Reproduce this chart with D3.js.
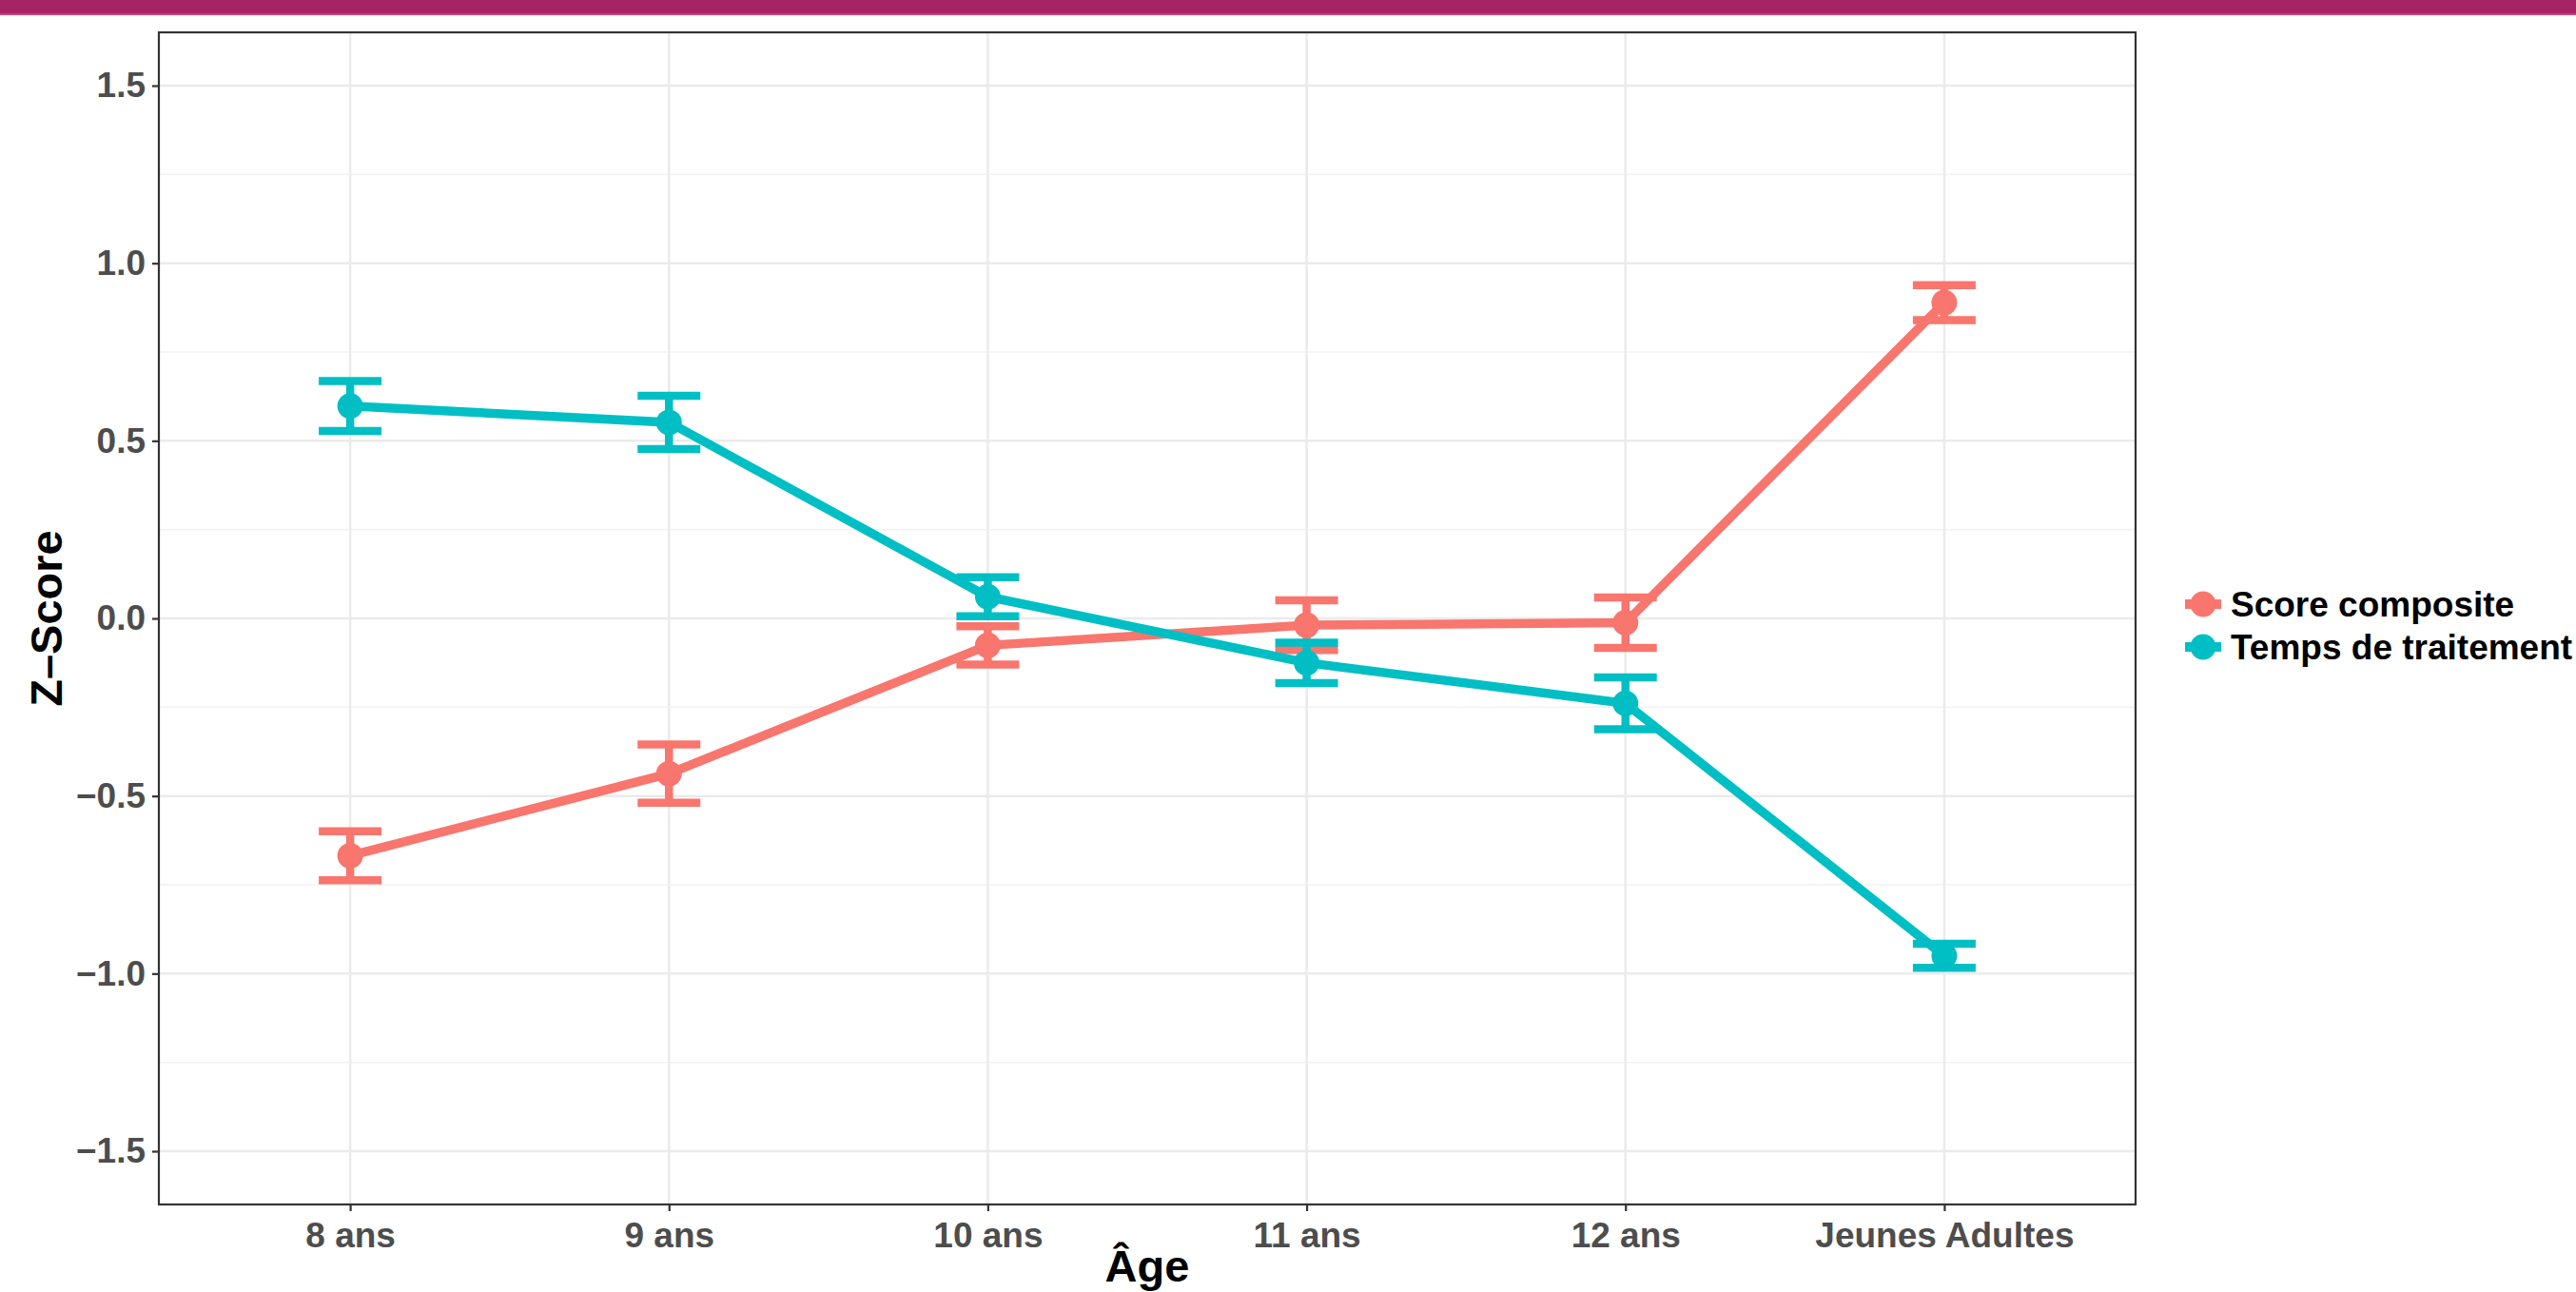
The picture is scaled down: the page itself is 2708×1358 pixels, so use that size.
<!DOCTYPE html>
<html>
<head>
<meta charset="utf-8">
<script src="https://cdnjs.cloudflare.com/ajax/libs/d3/7.8.5/d3.min.js"></script>
<style>
    body { margin: 0; background: #fff; }
    text { font-family: "Liberation Sans", Arial, Helvetica, sans-serif; font-weight: bold; }
</style>
</head>
<body>
<div id="chart"></div>
<script>
const categories = ["8 ans", "9 ans", "10 ans", "11 ans", "12 ans", "Jeunes Adultes"];
const seriesNames = ["Score composite", "Temps de traitement"];
const seriesColors = ["#F8766D", "#00BFC4"];

const scoreMean = [-0.668, -0.437, -0.076, -0.019, -0.012, 0.889];
const scoreErr = [0.069, 0.082, 0.054, 0.070, 0.071, 0.049];
const tempsMean = [0.598, 0.552, 0.061, -0.125, -0.239, -0.950];
const tempsErr = [0.070, 0.075, 0.055, 0.057, 0.073, 0.034];

const yTicks = [-1.5, -1.0, -0.5, 0.0, 0.5, 1.0, 1.5];
const yMinorTicks = [-1.25, -0.75, -0.25, 0.25, 0.75, 1.25];

const width = 2708, height = 1358;
const panel = { left: 167, right: 2245, top: 34, bottom: 1266 };

const svg = d3.select("#chart")
    .append("svg")
    .attr("width", width)
    .attr("height", height);

// top banner
svg.append("rect")
    .attr("x", 0).attr("y", 0)
    .attr("width", width).attr("height", 15)
    .attr("fill", "#A62366");
svg.append("rect")
    .attr("x", 0).attr("y", 14)
    .attr("width", width).attr("height", 2)
    .attr("fill", "#C9417F");

const x = d3.scalePoint()
    .domain(categories)
    .range([panel.left, panel.right])
    .padding(0.6);

const y = d3.scaleLinear()
    .domain([-1.65, 1.65])
    .range([panel.bottom, panel.top]);

const series = [
    { name: seriesNames[0], color: seriesColors[0], values: categories.map((c, i) => ({ cat: c, mean: scoreMean[i], err: scoreErr[i] })) },
    { name: seriesNames[1], color: seriesColors[1], values: categories.map((c, i) => ({ cat: c, mean: tempsMean[i], err: tempsErr[i] })) }
];

// grid
const grid = svg.append("g");
grid.selectAll(".minor")
    .data(yMinorTicks)
    .enter().append("line")
    .attr("x1", panel.left).attr("x2", panel.right)
    .attr("y1", d => y(d)).attr("y2", d => y(d))
    .attr("stroke", "#F2F2F2")
    .attr("stroke-width", 1.5);
grid.selectAll(".major")
    .data(yTicks)
    .enter().append("line")
    .attr("x1", panel.left).attr("x2", panel.right)
    .attr("y1", d => y(d)).attr("y2", d => y(d))
    .attr("stroke", "#EBEBEB")
    .attr("stroke-width", 2.5);
grid.selectAll(".vmajor")
    .data(categories)
    .enter().append("line")
    .attr("x1", d => x(d)).attr("x2", d => x(d))
    .attr("y1", panel.top).attr("y2", panel.bottom)
    .attr("stroke", "#EBEBEB")
    .attr("stroke-width", 2.5);

// data layers
const capHalf = 33;
const strokeW = 8.5;

const bars = svg.append("g");
const lines = svg.append("g");
const points = svg.append("g");

const line = d3.line()
    .x(d => x(d.cat))
    .y(d => y(d.mean));

series.forEach(s => {
    const g = bars.append("g")
        .attr("stroke", s.color)
        .attr("stroke-width", strokeW);
    g.selectAll(".stem")
        .data(s.values)
        .enter().append("line")
        .attr("x1", d => x(d.cat)).attr("x2", d => x(d.cat))
        .attr("y1", d => y(d.mean + d.err)).attr("y2", d => y(d.mean - d.err));
    g.selectAll(".capTop")
        .data(s.values)
        .enter().append("line")
        .attr("x1", d => x(d.cat) - capHalf).attr("x2", d => x(d.cat) + capHalf)
        .attr("y1", d => y(d.mean + d.err)).attr("y2", d => y(d.mean + d.err));
    g.selectAll(".capBottom")
        .data(s.values)
        .enter().append("line")
        .attr("x1", d => x(d.cat) - capHalf).attr("x2", d => x(d.cat) + capHalf)
        .attr("y1", d => y(d.mean - d.err)).attr("y2", d => y(d.mean - d.err));

    lines.append("path")
        .datum(s.values)
        .attr("d", line)
        .attr("fill", "none")
        .attr("stroke", s.color)
        .attr("stroke-width", 9.5);

    points.selectAll(null)
        .data(s.values)
        .enter().append("circle")
        .attr("cx", d => x(d.cat))
        .attr("cy", d => y(d.mean))
        .attr("r", 13.5)
        .attr("fill", s.color);
});

// panel border
svg.append("rect")
    .attr("x", panel.left).attr("y", panel.top)
    .attr("width", panel.right - panel.left)
    .attr("height", panel.bottom - panel.top)
    .attr("fill", "none")
    .attr("stroke", "#333333")
    .attr("stroke-width", 2.2);

// axes
const yAxis = svg.append("g")
    .attr("transform", `translate(${panel.left},0)`)
    .call(d3.axisLeft(y).tickValues(yTicks).tickFormat(d3.format(".1f")).tickSize(7).tickPadding(7));
const xAxis = svg.append("g")
    .attr("transform", `translate(0,${panel.bottom})`)
    .call(d3.axisBottom(x).tickSize(7).tickPadding(12));

[yAxis, xAxis].forEach(a => {
    a.select(".domain").remove();
    a.selectAll(".tick line").attr("stroke", "#333333").attr("stroke-width", 2.2);
    a.selectAll(".tick text")
        .attr("fill", "#4D4D4D")
        .style("font-size", "37px");
});
yAxis.selectAll(".tick text").text(d => d3.format(".1f")(d).replace("-", "\u2212"));

// axis titles
svg.append("text")
    .attr("x", (panel.left + panel.right) / 2)
    .attr("y", 1347)
    .attr("text-anchor", "middle")
    .attr("fill", "#000")
    .style("font-size", "47px")
    .text("Âge");

svg.append("text")
    .attr("transform", `translate(65,${(panel.top + panel.bottom) / 2}) rotate(-90)`)
    .attr("text-anchor", "middle")
    .attr("fill", "#000")
    .style("font-size", "47px")
    .text("Z\u2013Score");

// legend
const legend = svg.append("g")
    .attr("transform", "translate(2297,635)");
const rows = legend.selectAll("g")
    .data(series)
    .enter().append("g")
    .attr("transform", (d, i) => `translate(0,${i * 45})`);
rows.append("line")
    .attr("x1", 0).attr("x2", 38)
    .attr("y1", 0).attr("y2", 0)
    .attr("stroke", d => d.color)
    .attr("stroke-width", 10);
rows.append("circle")
    .attr("cx", 19).attr("cy", 0)
    .attr("r", 13.5)
    .attr("fill", d => d.color);
rows.append("text")
    .attr("x", 48)
    .attr("y", 13)
    .attr("fill", "#000")
    .style("font-size", "37px")
    .text(d => d.name);
</script>
</body>
</html>
